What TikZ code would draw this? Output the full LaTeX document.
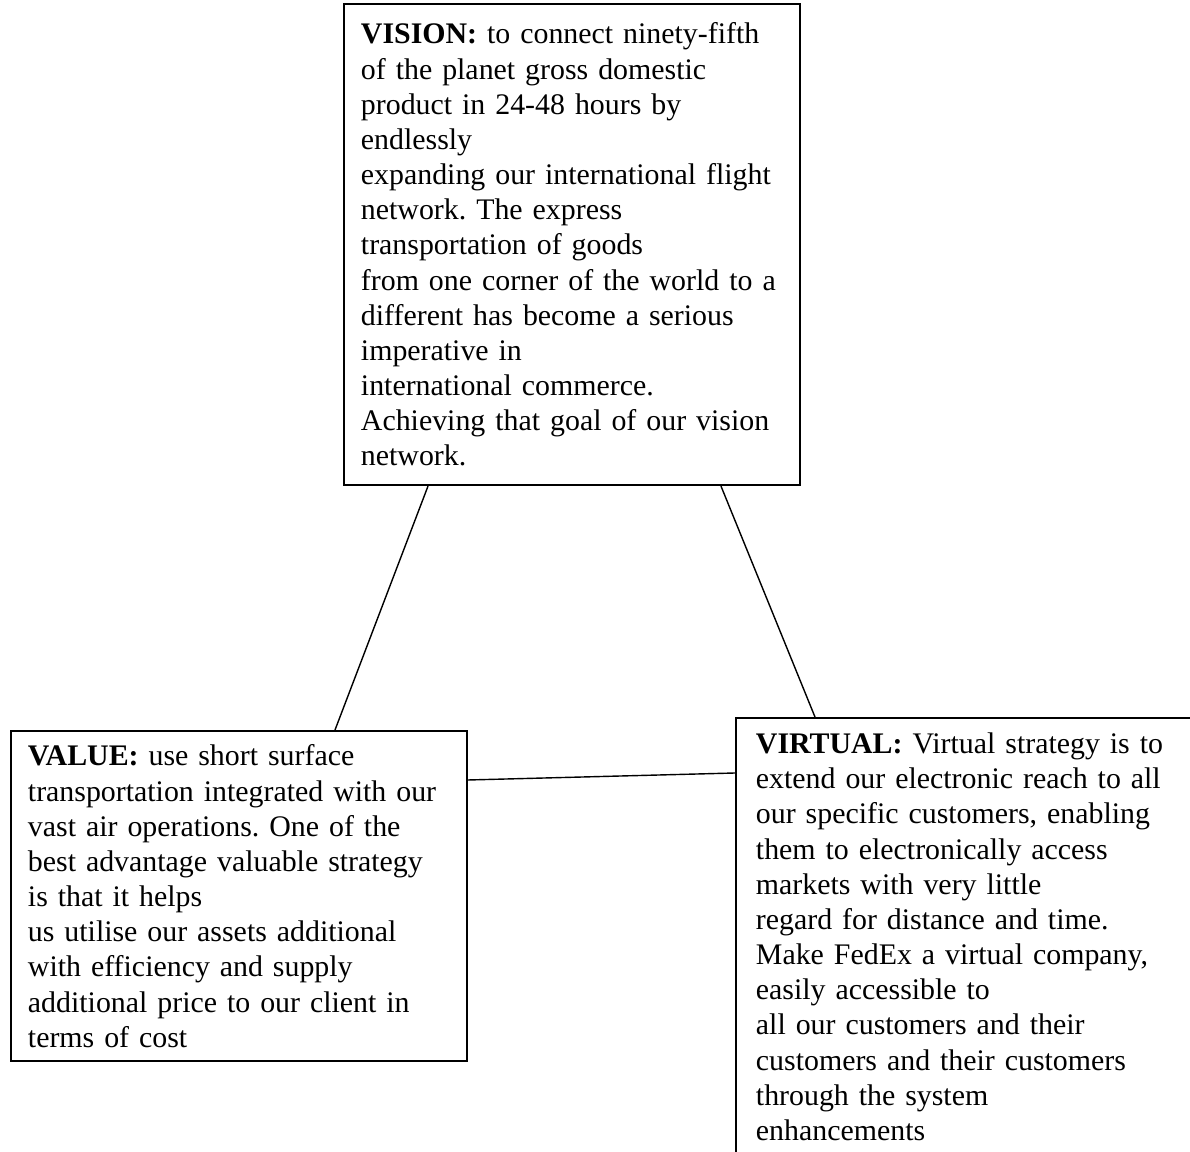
\documentclass[tikz,border=0pt]{standalone}
\usepackage{fontspec}
\setmainfont{Liberation Serif}
\usepackage{tikz}
\usetikzlibrary{positioning}
\frenchspacing

\begin{document}
\begin{tikzpicture}[
    panel/.style={
        rectangle,
        draw=black,
        line width=1.1pt,
        anchor=north west,
        align=left,
        text width=8.44cm,
        inner xsep=0.34cm,
        font={\fontsize{17}{20}\selectfont}
    },
    link/.style={
        line width=0.8pt,
        black
    }
]

% Page size
\useasboundingbox (0,0) rectangle (23.8,23.02);

% Vision box
\node[panel, inner ysep=0.38cm] (vision) at (6.86,22.96) {\textbf{VISION:} to connect ninety-fifth\\
of the planet gross domestic\\
product in 24-48 hours by\\
endlessly\\
expanding our international flight\\
network. The express\\
transportation of goods\\
from one corner of the world to a\\
different has become a serious\\
imperative in\\
international commerce.\\
Achieving that goal of our vision\\
network.};

% Value box
\node[panel, inner ysep=0.28cm] (value) at (0.2,8.42) {\textbf{VALUE:} use short surface\\
transportation integrated with our\\
vast air operations. One of the\\
best advantage valuable strategy\\
is that it helps\\
us utilise our assets additional\\
with efficiency and supply\\
additional price to our client in\\
terms of cost};

% Virtual box
\node[panel, inner ysep=0.3cm, inner xsep=0.4cm, text width=8.6cm] (virtual) at (14.7,8.68) {\textbf{VIRTUAL:} Virtual strategy is to\\
extend our electronic reach to all\\
our specific customers, enabling\\
them to electronically access\\
markets with very little\\
regard for distance and time.\\
Make FedEx a virtual company,\\
easily accessible to\\
all our customers and their\\
customers and their customers\\
through the system\\
enhancements};

% Connections
\draw[link] ([xshift=1.7cm]vision.south west) -- ([xshift=6.5cm]value.north west);
\draw[link] ([xshift=7.56cm]vision.south west) -- ([xshift=1.6cm]virtual.north west);
\draw[link] ([yshift=-1cm]value.north east) -- ([yshift=-1.12cm]virtual.north west);

\end{tikzpicture}
\end{document}
